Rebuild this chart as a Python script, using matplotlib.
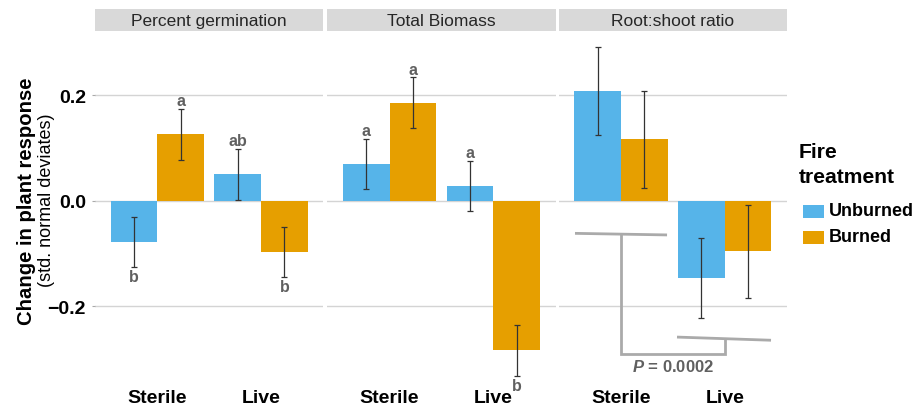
import matplotlib
matplotlib.use("Agg")
import matplotlib.pyplot as plt
from matplotlib.patches import Rectangle

plt.rcParams['font.family'] = ['Liberation Sans', 'DejaVu Sans']
plt.rcParams['mathtext.fontset'] = 'custom'
plt.rcParams['mathtext.bfit'] = 'Liberation Sans:italic:bold'
plt.rcParams['mathtext.rm'] = 'Liberation Sans'
plt.rcParams['mathtext.bf'] = 'Liberation Sans:bold'

# ---------------- data ----------------
panels = ["Percent germination", "Total Biomass", "Root:shoot ratio"]
soils = ["Sterile", "Live"]
treatments = ["Unburned", "Burned"]
colors = ["#56B4E9", "#E69F00"]

germ_unburned = [-0.078, 0.050]
germ_burned = [0.126, -0.097]
germ_unburned_se = [0.048, 0.049]
germ_burned_se = [0.049, 0.048]

bio_unburned = [0.070, 0.028]
bio_burned = [0.186, -0.284]
bio_unburned_se = [0.048, 0.048]
bio_burned_se = [0.048, 0.048]

rs_unburned = [0.208, -0.147]
rs_burned = [0.117, -0.096]
rs_unburned_se = [0.083, 0.076]
rs_burned_se = [0.092, 0.088]

germ_letters_unburned = ["b", "ab"]
germ_letters_burned = ["a", "b"]
bio_letters_unburned = ["a", "a"]
bio_letters_burned = ["a", "b"]

means = [[germ_unburned, germ_burned], [bio_unburned, bio_burned], [rs_unburned, rs_burned]]
ses = [[germ_unburned_se, germ_burned_se], [bio_unburned_se, bio_burned_se],
       [rs_unburned_se, rs_burned_se]]
letters = [[germ_letters_unburned, germ_letters_burned],
           [bio_letters_unburned, bio_letters_burned], None]

# bracket (root:shoot panel)
bracket_sterile_x = [0.557, 1.444]
bracket_sterile_y = [-0.062, -0.065]
bracket_live_x = [1.54, 2.446]
bracket_live_y = [-0.259, -0.265]
bracket_bottom_y = -0.292
p_label = r"$\mathbfit{P}$ = 0.0002"
p_pos = (1.50, -0.313)

# ---------------- layout ----------------
W, H = 916, 414
fig = plt.figure(figsize=(W / 100, H / 100), dpi=100)

def fx(px):
    return px / W

def fy(py):
    return 1 - py / H

panel_left_px = [95, 327.3, 558.7]
panel_w_px = 228.3
panel_top_px, panel_bot_px = 32, 393
strip_top_px, strip_bot_px = 10, 31.7
ylim = (-0.3633, 0.3223)
xlim = (0.4, 2.6)
bar_w = 0.45
grid_col = "#d4d4d4"
letter_col = "#606060"

for i, name in enumerate(panels):
    ax = fig.add_axes([fx(panel_left_px[i]), fy(panel_bot_px),
                       panel_w_px / W, (panel_bot_px - panel_top_px) / H])
    sax = fig.add_axes([fx(panel_left_px[i]), fy(strip_bot_px),
                        panel_w_px / W, (strip_bot_px - strip_top_px) / H])
    sax.set_facecolor("#d9d9d9")
    sax.set_xticks([]); sax.set_yticks([])
    for s in sax.spines.values():
        s.set_visible(False)
    sax.text(0.5, 0.48, name, ha="center", va="center", fontsize=12.5,
             color="#262626", transform=sax.transAxes)

    ax.set_xlim(*xlim)
    ax.set_ylim(*ylim)
    for s in ax.spines.values():
        s.set_visible(False)
    ax.set_yticks([-0.2, 0.0, 0.2])
    ax.yaxis.grid(True, color=grid_col, lw=1.0, zorder=0)
    ax.set_axisbelow(True)
    ax.set_xticks([1, 2])
    ax.set_xticklabels(soils, fontsize=14, fontweight="bold")
    ax.tick_params(axis="x", length=0, pad=-2)
    if i == 0:
        ax.tick_params(axis="y", length=2.5, width=0.8, color="#aaaaaa", pad=4,
                       labelsize=14)
        for lab in ax.get_yticklabels():
            lab.set_fontweight("bold")
    else:
        ax.tick_params(axis="y", length=0, labelleft=False)

    for t in range(2):
        xs = [k + 1 + (t - 0.5) * bar_w for k in range(2)]
        ax.bar(xs, means[i][t], width=bar_w, color=colors[t], edgecolor="none",
               zorder=2)
        ax.errorbar(xs, means[i][t], yerr=ses[i][t], fmt="none", ecolor="#333333",
                    elinewidth=0.9, capsize=2.3, capthick=0.9, zorder=3)
        if letters[i] is not None:
            for k in range(2):
                m, e = means[i][t][k], ses[i][t][k]
                if m >= 0:
                    ax.annotate(letters[i][t][k], (xs[k], m + e), xytext=(0, 2.5),
                                textcoords="offset points", ha="center",
                                va="baseline", fontsize=11.5, fontweight="bold",
                                color=letter_col)
                else:
                    ax.annotate(letters[i][t][k], (xs[k], m - e), xytext=(0, -1.5),
                                textcoords="offset points", ha="center", va="top",
                                fontsize=11.5, fontweight="bold", color=letter_col)

    if i == 2:
        bc = "#aaaaaa"
        ax.plot(bracket_sterile_x, bracket_sterile_y, color=bc, lw=2, zorder=1,
                solid_capstyle="butt")
        ax.plot(bracket_live_x, bracket_live_y, color=bc, lw=2, zorder=1,
                solid_capstyle="butt")
        y_s = (bracket_sterile_y[0] + bracket_sterile_y[1]) / 2
        y_l = (bracket_live_y[0] + bracket_live_y[1]) / 2
        ax.plot([1, 1, 2, 2], [y_s, bracket_bottom_y, bracket_bottom_y, y_l],
                color=bc, lw=2, zorder=1, solid_joinstyle="miter")
        ax.text(p_pos[0], p_pos[1], p_label, ha="center", va="center",
                fontsize=12, fontweight="bold", color=letter_col)

# y label
fig.text(fx(27), fy(201), "Change in plant response", rotation=90, ha="center",
         va="center", fontsize=14.6, fontweight="bold")
fig.text(fx(47), fy(200), "(std. normal deviates)", rotation=90, ha="center",
         va="center", fontsize=13)

# legend
fig.text(fx(799), fy(152), "Fire", ha="left", va="center", fontsize=15.2,
         fontweight="bold")
fig.text(fx(799), fy(178), "treatment", ha="left", va="center", fontsize=15.2,
         fontweight="bold")
key_y = [212, 238]
for t in range(2):
    fig.patches.append(Rectangle((fx(803), fy(key_y[t] + 6.5)), 21 / W, 13 / H,
                                 transform=fig.transFigure, facecolor=colors[t],
                                 edgecolor="none"))
    fig.text(fx(829), fy(key_y[t]), treatments[t], ha="left", va="center",
             fontsize=13, fontweight="bold")

fig.savefig("out.png", dpi=100)
